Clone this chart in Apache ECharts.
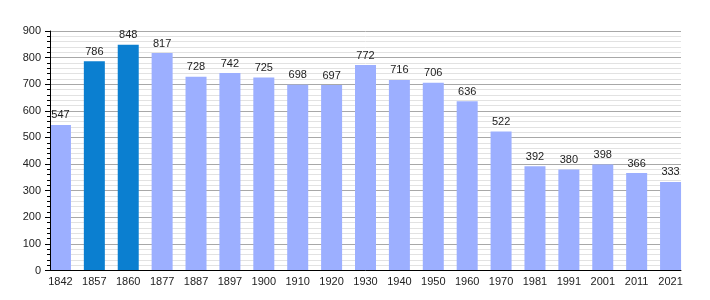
<!DOCTYPE html>
<html><head><meta charset="utf-8">
<script src="https://cdn.jsdelivr.net/npm/echarts@6/dist/echarts.min.js"></script>
<style>html,body{margin:0;padding:0;background:#fff}#c{width:710px;height:300px}</style>
</head><body><div id="c"></div>
<script>
const years = ['1842','1857','1860','1877','1887','1897','1900','1910','1920','1930','1940','1950','1960','1970','1981','1991','2001','2011','2021'];
const population = [547,786,848,817,728,742,725,698,697,772,716,706,636,522,392,380,398,366,333];
const highlighted = ['1857','1860'];
const yTicks = [0,100,200,300,400,500,600,700,800,900];

const chart = echarts.init(document.getElementById('c'), null, {renderer:'canvas'});
const font = 'Liberation Sans, Arial, sans-serif';
const yMin = yTicks[0], yMax = yTicks[yTicks.length-1];
chart.setOption({
  animation:false,
  grid:[
    {left:50, right:29, top:31, bottom:29.5},
    {left:43.5, right:22.5, top:31, bottom:29.5}
  ],
  xAxis:[
    {gridIndex:0, type:'value', min:0, max:1, z:5, axisLine:{show:true, onZero:false, lineStyle:{color:'#000', width:1}}, axisTick:{show:false}, axisLabel:{show:false}, splitLine:{show:false}},
    {gridIndex:1, type:'category', data:years, axisLine:{show:false}, axisTick:{show:false},
      axisLabel:{color:'#222', fontFamily:font, fontSize:11, margin:6, interval:0}}
  ],
  yAxis:[
    {gridIndex:0, type:'value', min:yMin, max:yMax, interval:100,
      axisLine:{show:false}, axisTick:{show:false},
      axisLabel:{color:'#222', fontFamily:font, fontSize:11, margin:9},
      splitLine:{show:true, lineStyle:{color:'#a8a8a8', width:1}},
      minorTick:{show:false, splitNumber:5},
      minorSplitLine:{show:true, lineStyle:{color:'#e2e2e2', width:1}}},
    {gridIndex:1, type:'value', min:yMin, max:yMax, show:false, splitLine:{show:false}},
    {gridIndex:0, type:'value', min:yMin, max:yMax, interval:100, position:'left', z:5,
      axisLine:{show:true, onZero:false, lineStyle:{color:'#000'}},
      axisTick:{show:true, length:5, lineStyle:{color:'#000'}},
      minorTick:{show:true, splitNumber:5, length:3, lineStyle:{color:'#000'}},
      axisLabel:{show:false}, splitLine:{show:false}, minorSplitLine:{show:false}}
  ],
  series:[{
    type:'bar', xAxisIndex:1, yAxisIndex:1, barWidth:21, z:2,
    data: population.map((v,i)=>({value:v, itemStyle:{color: highlighted.includes(years[i]) ? '#0b7fd0' : '#9cafff'}})),
    label:{show:true, position:'top', distance:4, color:'#222', fontFamily:font, fontSize:11}
  }]
});
</script></body></html>
